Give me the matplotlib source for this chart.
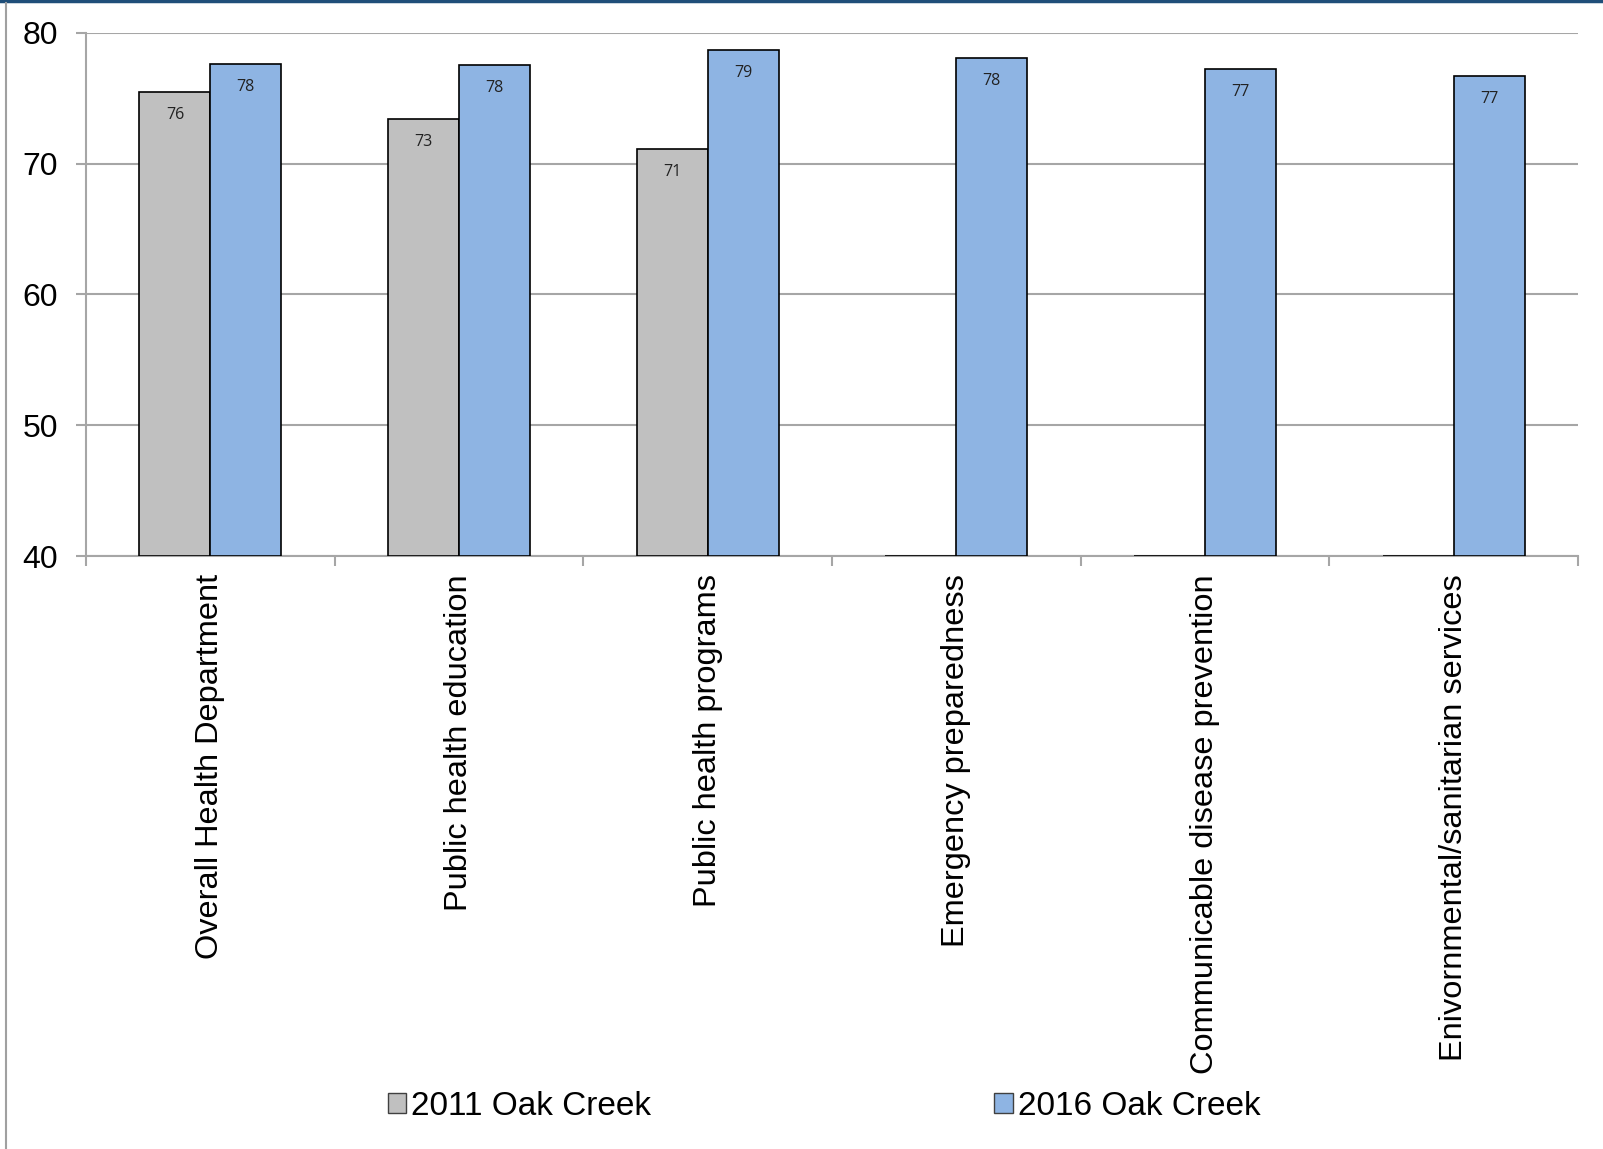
import matplotlib
matplotlib.use("Agg")
import matplotlib.pyplot as plt
from matplotlib.patches import Patch
from matplotlib.lines import Line2D
import numpy as np

categories = ["Overall Health Department", "Public health education", "Public health programs",
              "Emergency preparedness", "Communicable disease prevention",
              "Enivornmental/sanitarian services"]
series_names = ["2011 Oak Creek", "2016 Oak Creek"]
values_2011 = [75.5, 73.4, 71.1, None, None, None]
values_2016 = [77.6, 77.5, 78.7, 78.1, 77.2, 76.7]
labels_2011 = ["76", "73", "71", None, None, None]
labels_2016 = ["78", "78", "79", "78", "77", "77"]
yticks = [40, 50, 60, 70, 80]

YMIN, YMAX = 40, 80
colors = ["#C0C0C0", "#8EB4E3"]

plt.rcParams['font.family'] = ['Liberation Sans', 'DejaVu Sans']

fig = plt.figure(figsize=(16.03, 11.49), dpi=100)
ax = fig.add_axes([86/1603, 1-556/1149, (1578-86)/1603, (556-32.7)/1149])

x = np.arange(len(categories))
w = 0.285
for vals, labs, off, col in [(values_2011, labels_2011, -w/2, colors[0]),
                             (values_2016, labels_2016, w/2, colors[1])]:
    v = np.array([np.nan if a is None else a for a in vals], dtype=float)
    h = np.where(np.isnan(v), 0.0, v - YMIN)
    ax.bar(x + off, h, width=w, bottom=YMIN, color=col, edgecolor="black",
           linewidth=1.2, zorder=3)
    for xi, vi, lb in zip(x, v, labs):
        if lb is not None and not np.isnan(vi):
            ax.annotate(lb, (xi + off, vi), xytext=(0, -23), textcoords="offset pixels",
                        ha="center", va="center", fontsize=11.5, family=["Open Sans", "DejaVu Sans"],
                        color="#222222", zorder=4)

ax.set_xlim(-0.5, len(categories) - 0.5)
ax.set_ylim(YMIN, YMAX)
ax.set_yticks(yticks)
ax.yaxis.grid(True, color="#A6A6A6", linewidth=1.5, zorder=0)
ax.set_axisbelow(True)
for s in ["top", "right"]:
    ax.spines[s].set_visible(False)
for s in ["left", "bottom"]:
    ax.spines[s].set_color("#A6A6A6")
    ax.spines[s].set_linewidth(1.5)
ax.tick_params(axis="y", length=7, width=1.5, color="#A6A6A6", labelsize=23, pad=13)

# category labels between boundary ticks
ax.set_xticks(np.arange(len(categories) + 1) - 0.5)
ax.set_xticklabels([])
ax.tick_params(axis="x", length=7, width=1.5, color="#A6A6A6")
ax.set_xticks(x, minor=True)
ax.set_xticklabels(categories, minor=True, rotation=90, fontsize=23.4, va="top", ha="center")
ax.tick_params(axis="x", which="minor", length=0, pad=13)

handles = [Patch(facecolor=colors[0], edgecolor="#404040", linewidth=1.0),
           Patch(facecolor=colors[1], edgecolor="#404040", linewidth=1.0)]
fig.legend(handles, series_names, loc="center", bbox_to_anchor=(0.514, 0.037), ncol=2,
           frameon=False, fontsize=24, handlelength=0.55, handleheight=0.55,
           handletextpad=0.15, columnspacing=10.3)

# outer frame decorations
fig.add_artist(Line2D([0, 1], [1 - 1/1149, 1 - 1/1149], transform=fig.transFigure,
                      color="#1F4E79", linewidth=2.5))
fig.add_artist(Line2D([6/1603, 6/1603], [0, 1 - 3/1149], transform=fig.transFigure,
                      color="#A0A0A0", linewidth=1.5))

fig.savefig("out.png", dpi=100)
